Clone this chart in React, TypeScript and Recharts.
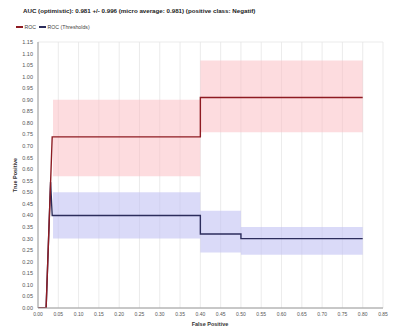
import React from "react";
import { LineChart, Line, XAxis, YAxis, CartesianGrid, ReferenceArea } from "recharts";

const titleText = "AUC (optimistic): 0.981 +/- 0.996 (micro average: 0.981) (positive class: Negatif)";
const seriesNames = ["ROC", "ROC (Thresholds)"];
const seriesColors = ["#8e1b22", "#2c2d5c"];
const xTitle = "False Positive";
const yTitle = "True Positive";

const xTicks = [0, 0.05, 0.1, 0.15, 0.2, 0.25, 0.3, 0.35, 0.4, 0.45, 0.5, 0.55, 0.6, 0.65, 0.7, 0.75, 0.8, 0.85];
const yTicks = [0, 0.05, 0.1, 0.15, 0.2, 0.25, 0.3, 0.35, 0.4, 0.45, 0.5, 0.55, 0.6, 0.65, 0.7, 0.75, 0.8, 0.85, 0.9, 0.95, 1.0, 1.05, 1.1, 1.15];
const gridTicks = [0, 0.1, 0.2, 0.3, 0.4, 0.5, 0.6, 0.7, 0.8, 0.9, 1.0, 1.1, 1.2, 1.3];

const rocX = [0, 0.02, 0.035, 0.4, 0.4, 0.8];
const rocY = [0, 0, 0.74, 0.74, 0.91, 0.91];
const thrX = [0, 0.02, 0.031, 0.035, 0.4, 0.4, 0.5, 0.5, 0.8];
const thrY = [0, 0, 0.545, 0.4, 0.4, 0.32, 0.32, 0.3, 0.3];

const rocBandX1 = [0.037, 0.4];
const rocBandX2 = [0.4, 0.8];
const rocBandLow = [0.57, 0.76];
const rocBandHigh = [0.9, 1.07];

const thrBandX1 = [0.037, 0.4, 0.5];
const thrBandX2 = [0.4, 0.5, 0.8];
const thrBandLow = [0.3, 0.24, 0.23];
const thrBandHigh = [0.5, 0.42, 0.35];

const rocData = rocX.map((x, i) => ({ x, y: rocY[i] }));
const thrData = thrX.map((x, i) => ({ x, y: thrY[i] }));

const FONT = "'Liberation Sans', Arial, sans-serif";

export default function App() {
  return (
    <div style={{ position: "absolute", left: 0, top: 0, width: 398, height: 335, background: "#fff", fontFamily: FONT }}>
      <div style={{ position: "absolute", left: 23, top: 7, fontSize: 6.2, fontWeight: "bold", color: "#222", whiteSpace: "nowrap" }}>
        {titleText}
      </div>
      <div style={{ position: "absolute", left: 16, top: 24, display: "flex", alignItems: "center", fontSize: 5.2, color: "#444", whiteSpace: "nowrap" }}>
        {seriesNames.map((n, i) => (
          <span key={n} style={{ display: "flex", alignItems: "center", marginRight: 3 }}>
            <span style={{ display: "inline-block", width: 7, height: 1.6, background: seriesColors[i], marginRight: 1.5 }} />
            {n}
          </span>
        ))}
      </div>
      <div style={{ position: "absolute", left: 200, top: 321, width: 40, marginLeft: -10, textAlign: "center", fontSize: 5.5, fontWeight: "bold", color: "#333", whiteSpace: "nowrap" }}>
        {xTitle}
      </div>
      <div style={{ position: "absolute", left: 15, top: 175, fontSize: 5.5, fontWeight: "bold", color: "#333", whiteSpace: "nowrap", transform: "translate(-50%, -50%) rotate(-90deg)" }}>
        {yTitle}
      </div>
      <LineChart width={398} height={335} margin={{ top: 42, right: 15, bottom: 7, left: 8 }}>
        <CartesianGrid stroke="#e6e6e6" strokeWidth={0.8} yAxisId="grid" />
        <XAxis
          type="number"
          dataKey="x"
          domain={[0, 0.85]}
          ticks={xTicks}
          allowDataOverflow
          tickFormatter={(v: number) => v.toFixed(2)}
          tick={{ fontSize: 5, fill: "#555", fontFamily: FONT }}
          tickLine={false}
          tickSize={3}
          tickMargin={1}
          height={20}
          axisLine={{ stroke: "#9a9a9a" }}
          interval={0}
        />
        <XAxis xAxisId="top" orientation="top" type="number" domain={[0, 0.85]} height={0} tick={false} tickLine={false} axisLine={{ stroke: "#a8a8a8" }} />
        <YAxis
          type="number"
          domain={[0, 1.15]}
          ticks={yTicks}
          allowDataOverflow
          tickFormatter={(v: number) => v.toFixed(2)}
          tick={{ fontSize: 5.5, fill: "#555", fontFamily: FONT }}
          tickLine={false}
          tickSize={3}
          tickMargin={2}
          width={30}
          axisLine={{ stroke: "#9a9a9a" }}
          interval={0}
        />
        <YAxis yAxisId="grid" orientation="right" type="number" domain={[0, 1.3]} ticks={gridTicks} width={0} tick={false} tickLine={false} axisLine={{ stroke: "#a0a0a0" }} />
        {rocBandX1.map((x1, i) => (
          <ReferenceArea key={"rb" + i} x1={x1} x2={rocBandX2[i]} y1={rocBandLow[i]} y2={rocBandHigh[i]} fill="#fbb9c0" fillOpacity={0.5} stroke="none" ifOverflow="visible" />
        ))}
        {thrBandX1.map((x1, i) => (
          <ReferenceArea key={"tb" + i} x1={x1} x2={thrBandX2[i]} y1={thrBandLow[i]} y2={thrBandHigh[i]} fill="#c2c2f4" fillOpacity={0.6} stroke="none" ifOverflow="visible" />
        ))}
        <Line data={thrData} dataKey="y" type="linear" stroke={seriesColors[1]} strokeWidth={1.4} dot={false} isAnimationActive={false} />
        <Line data={rocData} dataKey="y" type="linear" stroke={seriesColors[0]} strokeWidth={1.4} dot={false} isAnimationActive={false} />
      </LineChart>
    </div>
  );
}
